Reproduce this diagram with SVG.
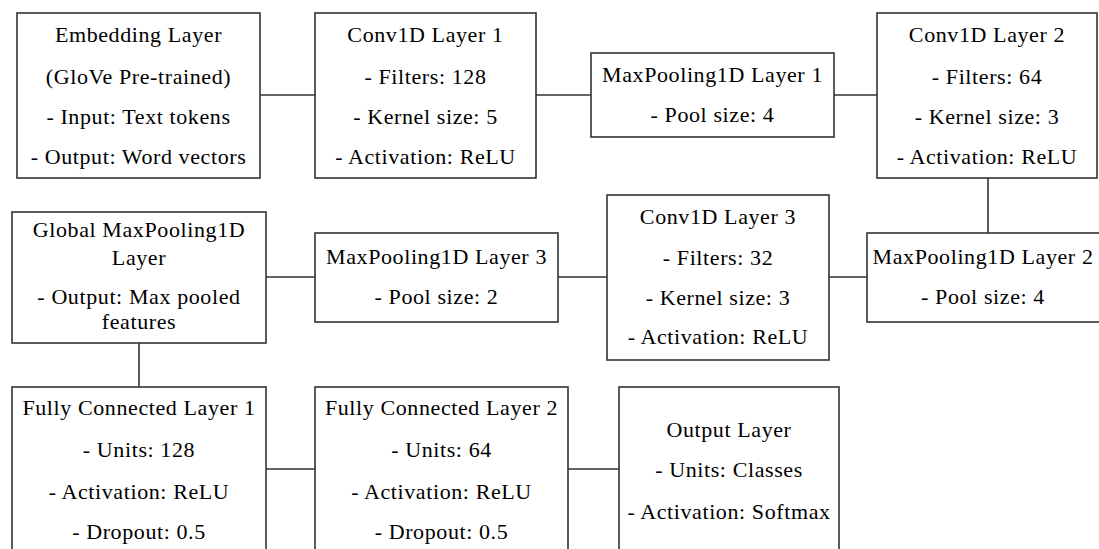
<svg xmlns="http://www.w3.org/2000/svg" width="1099" height="549" viewBox="0 0 1099 549">
<style>
.box{fill:#fff;stroke:#333;stroke-width:1.6}
.conn line{stroke:#333;stroke-width:1.6}
text{font-family:"Liberation Serif","Times New Roman",serif;font-size:22px;fill:#000;text-anchor:middle;letter-spacing:0.6px}
</style>
<rect width="1099" height="549" fill="#fff"/>
<g class="conn">
<line x1="260" y1="95" x2="315" y2="95"/>
<line x1="536" y1="95" x2="591" y2="95"/>
<line x1="834" y1="95" x2="877" y2="95"/>
<line x1="988" y1="178" x2="988" y2="233"/>
<line x1="829" y1="277" x2="867" y2="277"/>
<line x1="558" y1="277" x2="607" y2="277"/>
<line x1="266" y1="277" x2="315" y2="277"/>
<line x1="139" y1="343" x2="139" y2="387"/>
<line x1="266" y1="469" x2="315" y2="469"/>
<line x1="568" y1="469" x2="619" y2="469"/>
</g>
<g id="embedding">
<rect class="box" x="17" y="13" width="243" height="165"/>
<text x="138.5" y="42">Embedding Layer</text>
<text x="138.5" y="84">(GloVe Pre-trained)</text>
<text x="138.5" y="124">- Input: Text tokens</text>
<text x="138.5" y="164">- Output: Word vectors</text>
</g>
<g id="conv1">
<rect class="box" x="315" y="13" width="221" height="165"/>
<text x="425.5" y="42">Conv1D Layer 1</text>
<text x="425.5" y="84">- Filters: 128</text>
<text x="425.5" y="124">- Kernel size: 5</text>
<text x="425.5" y="164">- Activation: ReLU</text>
</g>
<g id="maxpool1">
<rect class="box" x="591" y="53" width="243" height="84"/>
<text x="712.5" y="82">MaxPooling1D Layer 1</text>
<text x="712.5" y="122">- Pool size: 4</text>
</g>
<g id="conv2">
<rect class="box" x="877" y="13" width="220" height="165"/>
<text x="987" y="42">Conv1D Layer 2</text>
<text x="987" y="84">- Filters: 64</text>
<text x="987" y="124">- Kernel size: 3</text>
<text x="987" y="164">- Activation: ReLU</text>
</g>
<g id="maxpool2">
<rect class="box" x="867" y="233" width="250" height="89"/>
<text x="983" y="264">MaxPooling1D Layer 2</text>
<text x="983" y="304">- Pool size: 4</text>
</g>
<g id="conv3">
<rect class="box" x="607" y="195" width="222" height="165"/>
<text x="718" y="224">Conv1D Layer 3</text>
<text x="718" y="265">- Filters: 32</text>
<text x="718" y="305">- Kernel size: 3</text>
<text x="718" y="344">- Activation: ReLU</text>
</g>
<g id="maxpool3">
<rect class="box" x="315" y="233" width="243" height="89"/>
<text x="436.5" y="264">MaxPooling1D Layer 3</text>
<text x="436.5" y="304">- Pool size: 2</text>
</g>
<g id="globalmaxpool">
<rect class="box" x="12" y="212" width="254" height="131"/>
<text x="139" y="237">Global MaxPooling1D</text>
<text x="139" y="265">Layer</text>
<text x="139" y="304">- Output: Max pooled</text>
<text x="139" y="329">features</text>
</g>
<g id="fc1">
<rect class="box" x="12" y="387" width="254" height="180"/>
<text x="139" y="415">Fully Connected Layer 1</text>
<text x="139" y="457">- Units: 128</text>
<text x="139" y="499">- Activation: ReLU</text>
<text x="139" y="539">- Dropout: 0.5</text>
</g>
<g id="fc2">
<rect class="box" x="315" y="387" width="253" height="180"/>
<text x="441.5" y="415">Fully Connected Layer 2</text>
<text x="441.5" y="457">- Units: 64</text>
<text x="441.5" y="499">- Activation: ReLU</text>
<text x="441.5" y="539">- Dropout: 0.5</text>
</g>
<g id="output">
<rect class="box" x="619" y="387" width="220" height="180"/>
<text x="729" y="437">Output Layer</text>
<text x="729" y="477">- Units: Classes</text>
<text x="729" y="519">- Activation: Softmax</text>
</g>
</svg>
